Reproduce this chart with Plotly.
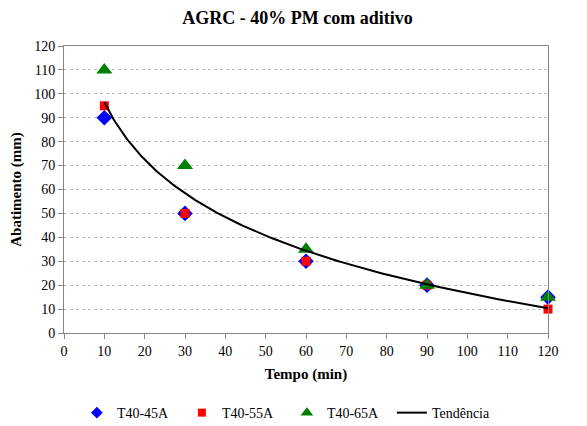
import numpy as np
import plotly.graph_objects as go

tempo = [10, 30, 60, 90, 120]
t45a = [90, 50, 30, 20, 15]
t55a = [95, 50, 30, 20, 10]
t65a = [110, 70, 35, 20, 15]
series_names = ["T40-45A", "T40-55A", "T40-65A"]
trend_name = "Tendência"

# Logarithmic trend line fitted to all points
all_x = np.array(tempo * 3, dtype=float)
all_y = np.array(t45a + t55a + t65a, dtype=float)
a, b = np.polyfit(np.log(all_x), all_y, 1)
xt = np.linspace(min(tempo), max(tempo), 200)
yt = a * np.log(xt) + b

font = "Liberation Serif, Times New Roman, serif"
tickfont = dict(family=font, size=14, color="black")

styles = [
    dict(symbol="diamond", color="#0000FF", size=12),
    dict(symbol="square", color="#FF0000", size=9),
    dict(symbol="triangle-up", color="#008000", size=14),
]
legend_sizes = [9, 8, 11]

fig = go.Figure()
for name, ys, st in zip(series_names, [t45a, t55a, t65a], styles):
    fig.add_trace(go.Scatter(x=tempo, y=ys, mode="markers", name=name, cliponaxis=False,
                             marker=st, showlegend=False))
fig.add_trace(go.Scatter(x=xt, y=yt, mode="lines", name=trend_name,
                         line=dict(color="black", width=2), showlegend=False))
# legend entries (smaller symbols as in the original)
for name, st, s in zip(series_names, styles, legend_sizes):
    fig.add_trace(go.Scatter(x=[None], y=[None], mode="markers", name=name,
                             marker=dict(symbol=st["symbol"], color=st["color"], size=s)))
fig.add_trace(go.Scatter(x=[None], y=[None], mode="lines", name=trend_name,
                         line=dict(color="black", width=2)))

fig.update_layout(
    width=579, height=418,
    paper_bgcolor="white", plot_bgcolor="white",
    margin=dict(l=55.5, r=39, t=38, b=93),
    font=dict(family=font, size=14, color="black"),
    title=dict(text="<b>AGRC - 40% PM com aditivo</b>", x=0.5, xanchor="center",
               y=0.976, yanchor="middle", font=dict(size=18, family=font)),
    xaxis=dict(range=[0, 120], dtick=10, tick0=0, showgrid=False, automargin=False,
               showline=True, linecolor="#868686", linewidth=1, mirror=True,
               ticks="outside", ticklen=5, tickcolor="#868686", tickfont=tickfont,
               zeroline=False,
               title=dict(text="<b>Tempo (min)</b>", font=dict(size=15, family=font), standoff=10)),
    yaxis=dict(range=[0, 120], dtick=10, tick0=0, showgrid=True, automargin=False,
               gridcolor="#BFBFBF", griddash="3px,3px", gridwidth=1,
               showline=True, linecolor="#868686", linewidth=1, mirror=True,
               ticks="outside", ticklen=5, tickcolor="#868686", tickfont=tickfont,
               zeroline=False,
               title=dict(text="<b>Abatimento (mm)</b>", font=dict(size=15, family=font), standoff=8)),
    legend=dict(orientation="h", x=0.4605, xanchor="center", y=0.031, yref="container",
                yanchor="middle",
                font=dict(size=14, family=font), traceorder="normal", itemsizing="trace",
                entrywidth=60, entrywidthmode="pixels"),
    showlegend=True,
)

fig.write_html("out.html")
